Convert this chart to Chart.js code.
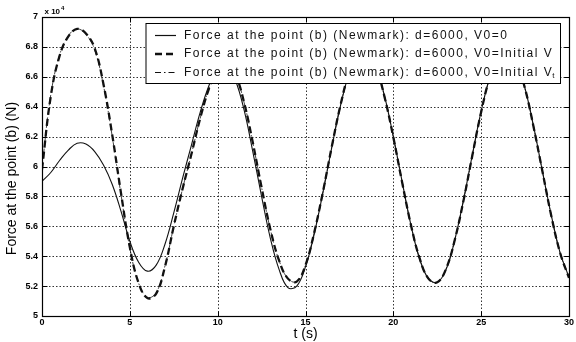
<!DOCTYPE html>
<html>
<head>
<meta charset="utf-8">
<script src="https://cdn.jsdelivr.net/npm/chart.js@4.4.0/dist/chart.umd.min.js"></script>
<style>
html, body { margin: 0; padding: 0; background: #fff; }
</style>
</head>
<body>
<canvas id="forceChart" width="576" height="342"></canvas>
<script>
// time (s)
const timeValues = [
    0, 0.5, 1, 1.5, 2, 2.5, 3, 3.5, 4, 4.5,
    5, 5.5, 6, 6.5, 7, 7.5, 8, 8.5, 9, 9.5,
    10, 10.5, 11, 11.5, 12, 12.5, 13, 13.5, 14, 14.5,
    15, 15.5, 16, 16.5, 17, 17.5, 18, 18.5, 19, 19.5,
    20, 20.5, 21, 21.5, 22, 22.5, 23, 23.5, 24, 24.5,
    25, 25.5, 26, 26.5, 27, 27.5, 28, 28.5, 29, 29.5, 30
];

// force at point (b), x 10^4 N
const forceV0Zero = [
    5.90, 5.96, 6.04, 6.11, 6.155, 6.15, 6.10, 6.01, 5.88, 5.70,
    5.50, 5.36, 5.30, 5.34, 5.48, 5.69, 5.92, 6.14, 6.36, 6.54,
    6.66, 6.68, 6.58, 6.38, 6.10, 5.80, 5.52, 5.31, 5.19, 5.20,
    5.33, 5.55, 5.83, 6.13, 6.41, 6.63, 6.76, 6.77, 6.67, 6.47,
    6.20, 5.90, 5.61, 5.38, 5.25, 5.225, 5.31, 5.51, 5.78, 6.08,
    6.37, 6.60, 6.74, 6.78, 6.70, 6.52, 6.26, 5.96, 5.67, 5.42, 5.26
];

const forceV0InitialV = [
    5.98, 6.47, 6.74, 6.87, 6.92, 6.89, 6.79, 6.55, 6.21, 5.82,
    5.46, 5.22, 5.12, 5.15, 5.33, 5.60, 5.85, 6.08, 6.32, 6.52,
    6.66, 6.70, 6.62, 6.43, 6.16, 5.86, 5.58, 5.37, 5.25, 5.23,
    5.34, 5.56, 5.835, 6.135, 6.415, 6.635, 6.76, 6.77, 6.67, 6.465,
    6.195, 5.895, 5.61, 5.385, 5.25, 5.225, 5.315, 5.51, 5.775, 6.075,
    6.365, 6.60, 6.745, 6.78, 6.70, 6.52, 6.255, 5.96, 5.665, 5.42, 5.255
];

const forceV0InitialVt = [
    5.99, 6.48, 6.745, 6.875, 6.92, 6.885, 6.78, 6.54, 6.20, 5.81,
    5.455, 5.22, 5.125, 5.155, 5.335, 5.60, 5.85, 6.08, 6.32, 6.52,
    6.66, 6.70, 6.62, 6.43, 6.16, 5.86, 5.58, 5.37, 5.25, 5.23,
    5.34, 5.56, 5.835, 6.135, 6.415, 6.635, 6.76, 6.77, 6.67, 6.465,
    6.195, 5.895, 5.61, 5.385, 5.25, 5.225, 5.315, 5.51, 5.775, 6.075,
    6.365, 6.60, 6.745, 6.78, 6.70, 6.52, 6.255, 5.96, 5.665, 5.42, 5.255
];

const seriesLabels = [
    'Force at the point (b) (Newmark): d=6000, V0=0',
    'Force at the point (b) (Newmark): d=6000, V0=Initial V',
    'Force at the point (b) (Newmark): d=6000, V0=Initial V'
];
const seriesSubscripts = ['', '', 't'];

const xTitle = 't (s)';
const yTitle = 'Force at the point (b) (N)';

const FONT = '"Liberation Sans", Arial, sans-serif';

function toPoints(values) {
    return values.map((v, i) => ({ x: timeValues[i], y: v }));
}

function line(ctx, x1, y1, x2, y2) {
    ctx.beginPath();
    ctx.moveTo(x1, y1);
    ctx.lineTo(x2, y2);
    ctx.stroke();
}

// grid, frame, legend box and titles in the old matlab look
const matlabFrame = {
    id: 'matlabFrame',
    beforeDatasetsDraw(chart) {
        const { ctx, chartArea: a, scales: { x, y } } = chart;
        ctx.save();
        ctx.strokeStyle = '#333';
        ctx.lineWidth = 1;
        ctx.setLineDash([1.5, 2]);
        x.ticks.forEach(t => {
            const px = Math.round(x.getPixelForValue(t.value)) + 0.5;
            if (px < a.left + 2 || px > a.right - 2) return;
            line(ctx, px, a.top, px, a.bottom);
        });
        y.ticks.forEach(t => {
            const py = Math.round(y.getPixelForValue(t.value)) + 0.5;
            if (py < a.top + 2 || py > a.bottom - 2) return;
            line(ctx, a.left, py, a.right, py);
        });
        ctx.restore();
    },
    afterDatasetsDraw(chart) {
        const { ctx, chartArea: a, scales: { x, y } } = chart;
        const L = Math.round(a.left) + 0.5, R = Math.round(a.right) + 0.5;
        const T = Math.round(a.top) + 0.5, B = Math.round(a.bottom) + 0.5;
        ctx.save();

        // frame + inward ticks
        ctx.strokeStyle = '#000';
        ctx.lineWidth = 1.2;
        ctx.setLineDash([]);
        ctx.strokeRect(L, T, R - L, B - T);
        ctx.lineWidth = 1;
        x.ticks.forEach(t => {
            const px = Math.round(x.getPixelForValue(t.value)) + 0.5;
            line(ctx, px, B, px, B - 5);
            line(ctx, px, T, px, T + 5);
        });
        y.ticks.forEach(t => {
            const py = Math.round(y.getPixelForValue(t.value)) + 0.5;
            line(ctx, L, py, L + 5, py);
            line(ctx, R, py, R - 5, py);
        });

        // legend
        ctx.font = '12px ' + FONT;
        ctx.letterSpacing = '1.5px';
        let textW = 0;
        seriesLabels.forEach((s, i) => {
            const w = ctx.measureText(s).width + (seriesSubscripts[i] ? 5 : 0);
            textW = Math.max(textW, w);
        });
        const boxR = R - 9, boxT = T + 6, boxH = 60;
        const boxL = Math.round(boxR - (38 + textW + 2));
        ctx.fillStyle = '#fff';
        ctx.fillRect(boxL, boxT, boxR - boxL, boxH);
        ctx.strokeStyle = '#000';
        ctx.lineWidth = 1;
        ctx.strokeRect(boxL, boxT, boxR - boxL, boxH);

        chart.data.datasets.forEach((ds, i) => {
            const rowY = boxT + 12 + i * 18.5;
            ctx.save();
            ctx.strokeStyle = ds.borderColor;
            ctx.lineWidth = Math.max(ds.borderWidth, 1.2);
            ctx.setLineDash(ds.borderDash || []);
            line(ctx, boxL + 9, rowY, boxL + 30, rowY);
            ctx.restore();
            ctx.fillStyle = '#111';
            ctx.textBaseline = 'middle';
            ctx.textAlign = 'left';
            ctx.font = '12px ' + FONT;
            ctx.fillText(seriesLabels[i], boxL + 38, rowY);
            if (seriesSubscripts[i]) {
                const w = ctx.measureText(seriesLabels[i]).width;
                ctx.font = '8px ' + FONT;
                ctx.fillText(seriesSubscripts[i], boxL + 38 + w - 1, rowY + 3);
            }
        });
        ctx.letterSpacing = '0px';

        // exponent label
        ctx.fillStyle = '#000';
        ctx.textAlign = 'left';
        ctx.textBaseline = 'alphabetic';
        ctx.font = 'bold 8px ' + FONT;
        ctx.fillText('x 10', L + 2, T - 4);
        const ew = ctx.measureText('x 10').width;
        ctx.font = 'bold 6px ' + FONT;
        ctx.fillText('4', L + 3 + ew, T - 8);

        // axis titles
        ctx.font = '14px ' + FONT;
        ctx.textAlign = 'center';
        ctx.textBaseline = 'middle';
        ctx.fillText(xTitle, (a.left + a.right) / 2, B + 18);
        ctx.save();
        ctx.translate(12, (a.top + a.bottom) / 2 + 12);
        ctx.rotate(-Math.PI / 2);
        ctx.fillText(yTitle, 0, 0);
        ctx.restore();

        ctx.restore();
    }
};

const tickFont = { family: FONT, size: 9, weight: 'bold' };

const forceChart = new Chart(document.getElementById('forceChart'), {
    type: 'line',
    data: {
        datasets: [{
            label: seriesLabels[0],
            data: toPoints(forceV0Zero),
            borderColor: '#111',
            borderWidth: 1.1,
            tension: 0.4
        }, {
            label: seriesLabels[1],
            data: toPoints(forceV0InitialV),
            borderColor: '#111',
            borderWidth: 2.3,
            borderDash: [7, 4],
            tension: 0.4
        }, {
            label: seriesLabels[2] + seriesSubscripts[2],
            data: toPoints(forceV0InitialVt),
            borderColor: '#111',
            borderWidth: 0.8,
            borderDash: [6, 3, 1.5, 3],
            tension: 0.4
        }]
    },
    options: {
        responsive: false,
        animation: false,
        layout: { padding: { left: 0, right: 7, top: 17, bottom: 0 } },
        elements: { point: { radius: 0 } },
        plugins: {
            legend: { display: false },
            tooltip: { enabled: false }
        },
        scales: {
            x: {
                type: 'linear',
                min: 0,
                max: 30,
                grid: { display: false, drawTicks: false, tickLength: 0 },
                border: { display: false },
                ticks: {
                    stepSize: 5,
                    padding: 1,
                    maxRotation: 0,
                    color: '#000',
                    font: tickFont
                },
                afterFit(scale) { scale.height = 26; }
            },
            y: {
                min: 5,
                max: 7,
                grid: { display: false, drawTicks: false, tickLength: 0 },
                border: { display: false },
                ticks: {
                    stepSize: 0.2,
                    padding: 4,
                    color: '#000',
                    font: tickFont,
                    callback: v => String(Number(v.toFixed(1)))
                },
                afterFit(scale) { scale.width = 42; }
            }
        }
    },
    plugins: [matlabFrame]
});
</script>
</body>
</html>
